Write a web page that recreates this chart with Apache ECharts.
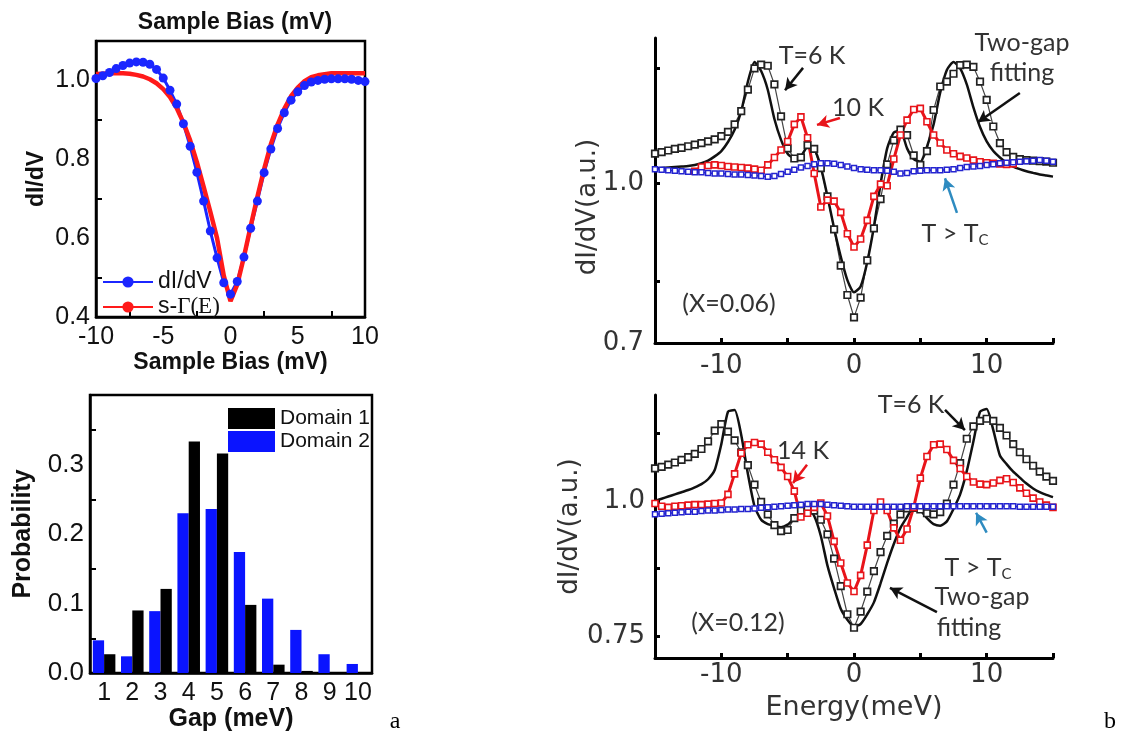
<!DOCTYPE html>
<html><head><meta charset="utf-8">
<script src="https://cdn.jsdelivr.net/npm/echarts@6/dist/echarts.min.js"></script>
<style>html,body{margin:0;padding:0;background:#fff}#c{width:1123px;height:740px}</style>
</head><body><div id="c"></div>
<script>
// ---------- Panel a (top): tunneling spectrum ----------
const biasA = [-10,-9.5,-9,-8.5,-8,-7.5,-7,-6.5,-6,-5.5,-5,-4.5,-4,-3.5,-3,-2.5,-2,-1.5,-1,-0.5,0,0.5,1,1.5,2,2.5,3,3.5,4,4.5,5,5.5,6,6.5,7,7.5,8,8.5,9,9.5,10];
const dIdV = [1.005,1.012,1.020,1.030,1.038,1.044,1.047,1.046,1.041,1.028,1.006,0.975,0.940,0.890,0.833,0.767,0.694,0.618,0.550,0.487,0.458,0.490,0.552,0.625,0.694,0.766,0.826,0.878,0.918,0.950,0.971,0.987,0.996,1.000,1.003,1.004,1.004,1.004,1.003,1.000,0.997];
const sGamma = [1.016,1.017,1.018,1.018,1.018,1.017,1.014,1.010,1.003,0.993,0.978,0.958,0.930,0.893,0.848,0.793,0.731,0.667,0.600,0.505,0.440,0.482,0.553,0.630,0.705,0.775,0.838,0.888,0.928,0.960,0.982,0.998,1.008,1.013,1.016,1.018,1.018,1.018,1.018,1.018,1.018];
const aTopXLabels = [-10,-5,0,5,10];
const aTopXTicks = [-7.5,-2.5,2.5,7.5];
const aTopYLabels = [0.4,0.6,0.8,1.0];
const aTopYTicks = [0.5,0.7,0.9];

// ---------- Panel a (bottom): gap histogram ----------
const gapCats = ['1','2','3','4','5','6','7','8','9','10'];
const domain1 = [0.027,0.090,0.121,0.333,0.316,0.098,0.012,0.003,0,0];
const domain2 = [0.047,0.024,0.089,0.230,0.236,0.174,0.107,0.062,0.027,0.013];
const aBotYLabels = [0,0.1,0.2,0.3];
const aBotYTicks = [0.05,0.15,0.25,0.35];

// ---------- Panel b: energy grid ----------
const energyB = [-15,-14.5,-14,-13.5,-13,-12.5,-12,-11.5,-11,-10.5,-10,-9.5,-9,-8.5,-8,-7.5,-7,-6.5,-6,-5.5,-5,-4.5,-4,-3.5,-3,-2.5,-2,-1.5,-1,-0.5,0,0.5,1,1.5,2,2.5,3,3.5,4,4.5,5,5.5,6,6.5,7,7.5,8,8.5,9,9.5,10,10.5,11,11.5,12,12.5,13,13.5,14,14.5,15];

// b top (X=0.06)
const top6K = [1.055,1.058,1.061,1.064,1.066,1.069,1.072,1.075,1.078,1.082,1.088,1.096,1.110,1.135,1.175,1.215,1.222,1.220,1.185,1.125,1.065,1.046,1.048,1.071,1.064,1.028,0.975,0.913,0.845,0.790,0.748,0.785,0.855,0.915,0.970,1.035,1.080,1.100,1.090,1.052,1.034,1.060,1.137,1.181,1.190,1.205,1.221,1.222,1.218,1.190,1.156,1.106,1.075,1.058,1.049,1.045,1.043,1.042,1.041,1.040,1.038];
const topFit = [1.027,1.028,1.029,1.030,1.031,1.032,1.034,1.037,1.042,1.050,1.060,1.077,1.100,1.135,1.190,1.227,1.210,1.175,1.120,1.081,1.055,1.046,1.050,1.068,1.064,1.030,0.975,0.915,0.862,0.818,0.795,0.806,0.852,0.918,0.998,1.065,1.095,1.098,1.065,1.045,1.040,1.068,1.110,1.170,1.212,1.227,1.215,1.185,1.142,1.105,1.078,1.060,1.048,1.038,1.031,1.026,1.022,1.019,1.016,1.014,1.012];
const top10K = [null,null,null,null,null,null,1.022,1.030,1.033,1.034,1.033,1.031,1.030,1.029,1.028,1.026,1.024,1.034,1.048,1.062,1.078,1.110,1.124,1.085,1.018,0.955,0.968,0.966,0.945,0.905,0.880,0.895,0.930,0.975,0.998,0.995,1.045,1.090,1.118,1.138,1.140,1.115,1.090,1.075,1.062,1.055,1.050,1.047,1.043,1.040,1.038,1.037,1.036,1.035,1.036,null,null,null,null,null,null];
const topAboveTc = [1.026,1.025,1.024,1.023,1.022,1.021,1.020,1.020,1.019,1.018,1.018,1.017,1.016,1.016,1.015,1.014,1.013,1.012,1.013,1.017,1.021,1.025,1.029,1.032,1.035,1.037,1.037,1.036,1.034,1.031,1.028,1.026,1.025,1.024,1.024,1.023,1.021,1.018,1.019,1.022,1.023,1.024,1.024,1.024,1.025,1.026,1.028,1.030,1.031,1.032,1.034,1.035,1.037,1.038,1.039,1.040,1.041,1.042,1.043,1.042,1.040];

// b bottom (X=0.12)
const bot6K = [1.060,1.063,1.067,1.071,1.076,1.081,1.087,1.096,1.110,1.130,1.142,1.128,1.112,1.090,1.066,1.030,0.998,0.975,0.955,0.944,0.946,0.968,0.982,0.988,0.982,0.965,0.938,0.893,0.842,0.790,0.765,0.795,0.832,0.870,0.905,0.935,0.958,0.975,0.986,0.987,0.984,0.977,0.975,0.979,0.995,1.030,1.070,1.115,1.138,1.148,1.152,1.148,1.135,1.121,1.105,1.090,1.077,1.065,1.054,1.045,1.037];
const botFit = [1.000,1.004,1.008,1.012,1.016,1.020,1.025,1.031,1.040,1.057,1.105,1.165,1.168,1.122,1.050,0.990,0.965,0.957,0.954,0.951,0.956,0.968,0.980,0.986,0.972,0.935,0.880,0.838,0.800,0.780,0.767,0.772,0.790,0.812,0.847,0.885,0.920,0.950,0.970,0.988,0.983,0.968,0.957,0.954,0.962,0.985,1.012,1.055,1.110,1.165,1.170,1.131,1.084,1.068,1.054,1.043,1.032,1.023,1.016,1.011,1.007];
const bot14K = [0.995,0.990,0.988,0.990,0.991,0.992,0.993,0.993,0.994,0.995,0.996,1.012,1.050,1.088,1.104,1.108,1.105,1.090,1.076,1.062,1.045,1.018,0.970,0.977,0.988,0.996,0.972,0.925,0.885,0.848,0.832,0.862,0.918,0.982,0.998,0.982,0.950,0.927,0.948,0.988,1.042,1.082,1.104,1.105,1.095,1.075,1.060,1.045,1.035,1.031,1.030,1.033,1.038,1.041,1.034,1.024,1.014,1.005,0.998,0.992,0.988];
const botAboveTc = [0.975,0.976,0.977,0.978,0.979,0.980,0.980,0.981,0.982,0.982,0.983,0.984,0.984,0.985,0.985,0.986,0.987,0.988,0.989,0.990,0.991,0.992,0.993,0.994,0.994,0.994,0.993,0.992,0.991,0.990,0.989,0.989,0.989,0.989,0.989,0.989,0.989,0.989,0.990,0.990,0.990,0.990,0.990,0.990,0.990,0.990,0.990,0.990,0.990,0.990,0.990,0.990,0.990,0.990,0.990,0.989,0.989,0.989,0.989,0.989,0.989];

const bXLabels = [-10,0,10];
const bXTicks = [-10,-5,0,5,10,15];
const bTopYLabels = [0.7,1.0];
const bTopYLabelText = ['0.7','1.0'];
const bTopYTicks = [0.815,1.0,1.215];
const bBotYLabels = [0.75,1.0];
const bBotYLabelText = ['0.75','1.0'];
const bBotYTicks = [0.75,0.875,1.0,1.125];

// annotation arrows (data coordinates)
const topArrows = [
  {from:[-3.84,1.216], to:[-5.2,1.174], color:'#111'},
  {from:[-1.06,1.122], to:[-2.79,1.109], color:'#e8141a'},
  {from:[12.5,1.169], to:[9.34,1.114], color:'#111'},
  {from:[7.76,0.944], to:[6.86,1.009], color:'#2e8bc0'}
];
const botArrows = [
  {from:[6.86,1.1685], to:[8.36,1.131], color:'#111'},
  {from:[-3.54,1.067], to:[-4.6,1.033], color:'#e8141a'},
  {from:[6.25,0.794], to:[2.71,0.839], color:'#111'},
  {from:[10.0,0.941], to:[9.2,0.978], color:'#2e8bc0'}
];

// ---------- build ----------
const zip = (xs, ys) => xs.map((x, i) => [x, ys[i]]);
const arrowLines = arr => arr.map(a => [
  {coord: a.from, lineStyle:{color:a.color, width:2.5, type:'solid'}},
  {coord: a.to, lineStyle:{color:a.color, width:2.5, type:'solid'}}
]);
const AR = '"Liberation Sans", Arial, sans-serif';
const DJ = '"DejaVu Sans", sans-serif';
const LT = 'Lato, "Open Sans", sans-serif';

const chart = echarts.init(document.getElementById('c'), null, {renderer:'canvas'});

const aAxisLine = {show:true, onZero:false, lineStyle:{color:'#000', width:2.5}};
const bAxisLine = {show:true, onZero:false, lineStyle:{color:'#000', width:3}};

const option = {
  animation:false,
  backgroundColor:'#fff',
  title:{text:'Sample Bias (mV)', left:230, top:6, textAlign:'center',
    textStyle:{fontFamily:AR, fontWeight:'bold', fontSize:23, color:'#111'}},
  legend:[
    {data:['dI/dV','s-Γ(E)'], orient:'vertical', left:97, top:265, itemWidth:50, itemHeight:14, itemGap:1,
      textStyle:{fontFamily:AR, fontSize:23, color:'#111', lineHeight:24,
        rich:{g:{fontFamily:'"Liberation Serif", serif', fontSize:23, color:'#111'}}},
      formatter: n => n === 's-Γ(E)' ? 's-{g|Γ(E)}' : n},
    {data:['Domain 1','Domain 2'], orient:'vertical', left:223, top:403, itemWidth:47, itemHeight:21, itemGap:2, icon:'rect',
      textStyle:{fontFamily:AR, fontSize:21, color:'#111'}}
  ],
  grid:[
    {left:96, top:41, width:269, height:276, show:true, borderColor:'#000', borderWidth:2.5, backgroundColor:'transparent'},
    {left:90, top:395, width:282, height:278, show:true, borderColor:'#000', borderWidth:2.5, backgroundColor:'transparent'},
    {left:655, top:38, width:398, height:305},
    {left:655, top:395, width:398, height:263}
  ],
  xAxis:[
    {gridIndex:0, type:'value', min:-10, max:10, axisLine:aAxisLine, splitLine:{show:false},
      axisTick:{show:true, inside:true, length:6, lineStyle:{width:2, color:'#000'}, customValues:aTopXTicks},
      axisLabel:{customValues:aTopXLabels, fontFamily:AR, fontSize:25, color:'#111', margin:8},
      name:'Sample Bias (mV)', nameLocation:'middle', nameGap:33,
      nameTextStyle:{fontFamily:AR, fontWeight:'bold', fontSize:23, color:'#111'}},
    {gridIndex:1, type:'category', data:gapCats, axisLine:aAxisLine, axisTick:{show:false}, splitLine:{show:false},
      axisLabel:{fontFamily:AR, fontSize:25, color:'#111', margin:8, interval:0},
      name:'Gap (meV)', nameLocation:'middle', nameGap:30,
      nameTextStyle:{fontFamily:AR, fontWeight:'bold', fontSize:25, color:'#111'}},
    {gridIndex:2, type:'value', min:-15, max:15, axisLine:bAxisLine, splitLine:{show:false},
      axisTick:{show:true, inside:true, length:5, lineStyle:{width:3, color:'#000'}, customValues:bXTicks},
      axisLabel:{customValues:bXLabels, fontFamily:DJ, fontSize:26, color:'#333', margin:10}},
    {gridIndex:3, type:'value', min:-15, max:15, axisLine:bAxisLine, splitLine:{show:false},
      axisTick:{show:true, inside:true, length:5, lineStyle:{width:3, color:'#000'}, customValues:bXTicks},
      axisLabel:{customValues:bXLabels, fontFamily:DJ, fontSize:26, color:'#333', margin:4},
      name:'Energy(meV)', nameLocation:'middle', nameGap:36,
      nameTextStyle:{fontFamily:DJ, fontSize:27, color:'#333'}}
  ],
  yAxis:[
    {gridIndex:0, type:'value', min:0.4, max:1.1, axisLine:aAxisLine, splitLine:{show:false},
      axisTick:{show:true, inside:true, length:6, lineStyle:{width:2, color:'#000'}, customValues:aTopYTicks},
      axisLabel:{customValues:aTopYLabels, formatter:v => v.toFixed(1), fontFamily:AR, fontSize:25, color:'#111', margin:6},
      name:'dI/dV', nameLocation:'middle', nameGap:48, nameRotate:90,
      nameTextStyle:{fontFamily:AR, fontWeight:'bold', fontSize:23, color:'#111'}},
    {gridIndex:1, type:'value', min:0, max:0.4, axisLine:aAxisLine, splitLine:{show:false},
      axisTick:{show:true, inside:true, length:6, lineStyle:{width:2, color:'#000'}, customValues:aBotYTicks},
      axisLabel:{customValues:aBotYLabels, formatter:v => v.toFixed(1), fontFamily:AR, fontSize:26, color:'#111', margin:6},
      name:'Probability', nameLocation:'middle', nameGap:54, nameRotate:90,
      nameTextStyle:{fontFamily:AR, fontWeight:'bold', fontSize:25, color:'#111'}},
    {gridIndex:2, type:'value', min:0.7, max:1.272, axisLine:bAxisLine, splitLine:{show:false},
      axisTick:{show:true, inside:true, length:5, lineStyle:{width:3, color:'#000'}, customValues:bTopYTicks},
      axisLabel:{customValues:bTopYLabels, formatter:v => bTopYLabelText[bTopYLabels.indexOf(v)], fontFamily:DJ, fontSize:26, color:'#333', margin:11}},
    {gridIndex:3, type:'value', min:0.709, max:1.196, axisLine:bAxisLine, splitLine:{show:false},
      axisTick:{show:true, inside:true, length:5, lineStyle:{width:3, color:'#000'}, customValues:bBotYTicks},
      axisLabel:{customValues:bBotYLabels, formatter:v => bBotYLabelText[bBotYLabels.indexOf(v)], fontFamily:DJ, fontSize:26, color:'#333', margin:10},
      name:'dI/dV(a.u.)', nameLocation:'middle', nameGap:54, nameRotate:90,
      nameTextStyle:{fontFamily:DJ, fontSize:26, color:'#333'}}
  ],
  series:[
    // panel a top
    {name:'dI/dV', type:'line', xAxisIndex:0, yAxisIndex:0, data:zip(biasA, dIdV),
      symbol:'circle', symbolSize:9, showAllSymbol:true,
      lineStyle:{color:'#1b26ff', width:3}, itemStyle:{color:'#1b26ff'}},
    {name:'s-Γ(E)', type:'line', xAxisIndex:0, yAxisIndex:0, data:zip(biasA, sGamma),
      symbol:'none', lineStyle:{color:'#ff1a1a', width:4.5}, itemStyle:{color:'#ff1a1a'}},
    // panel a bottom (blue bars sit left of black bars)
    {name:'Domain 2', type:'bar', xAxisIndex:1, yAxisIndex:1, data:domain2, barGap:'0%', barCategoryGap:'20%',
      itemStyle:{color:'#0a14ff'}},
    {name:'Domain 1', type:'bar', xAxisIndex:1, yAxisIndex:1, data:domain1, barGap:'0%', barCategoryGap:'20%',
      itemStyle:{color:'#000'}},
    // panel b top
    {name:'T=6 K (X=0.06)', type:'line', xAxisIndex:2, yAxisIndex:2, data:zip(energyB, top6K),
      symbol:'rect', symbolSize:6.5, showAllSymbol:true, lineStyle:{color:'#444', width:1.2},
      itemStyle:{color:'#fff', borderColor:'#222', borderWidth:1.7}},
    {name:'Two-gap fitting (X=0.06)', type:'line', xAxisIndex:2, yAxisIndex:2, data:zip(energyB, topFit),
      symbol:'none', smooth:0.2, lineStyle:{color:'#111', width:2.5},
      markLine:{silent:true, symbol:['none','arrow'], symbolSize:[10,12], label:{show:false}, data:arrowLines(topArrows)}},
    {name:'10 K (X=0.06)', type:'line', xAxisIndex:2, yAxisIndex:2, data:zip(energyB, top10K),
      symbol:'rect', symbolSize:6, showAllSymbol:true, lineStyle:{color:'#e8141a', width:3},
      itemStyle:{color:'#fff', borderColor:'#e8141a', borderWidth:1.6}},
    {name:'T > Tc (X=0.06)', type:'line', xAxisIndex:2, yAxisIndex:2, data:zip(energyB, topAboveTc),
      symbol:'rect', symbolSize:5, showAllSymbol:true, lineStyle:{color:'#2424d0', width:1.5},
      itemStyle:{color:'#fff', borderColor:'#2424d0', borderWidth:1.5}},
    // panel b bottom
    {name:'T=6 K (X=0.12)', type:'line', xAxisIndex:3, yAxisIndex:3, data:zip(energyB, bot6K),
      symbol:'rect', symbolSize:6.5, showAllSymbol:true, lineStyle:{color:'#444', width:1.2},
      itemStyle:{color:'#fff', borderColor:'#222', borderWidth:1.7}},
    {name:'Two-gap fitting (X=0.12)', type:'line', xAxisIndex:3, yAxisIndex:3, data:zip(energyB, botFit),
      symbol:'none', smooth:0.2, lineStyle:{color:'#111', width:2.5},
      markLine:{silent:true, symbol:['none','arrow'], symbolSize:[10,12], label:{show:false}, data:arrowLines(botArrows)}},
    {name:'14 K (X=0.12)', type:'line', xAxisIndex:3, yAxisIndex:3, data:zip(energyB, bot14K),
      symbol:'rect', symbolSize:6, showAllSymbol:true, lineStyle:{color:'#e8141a', width:3},
      itemStyle:{color:'#fff', borderColor:'#e8141a', borderWidth:1.6}},
    {name:'T > Tc (X=0.12)', type:'line', xAxisIndex:3, yAxisIndex:3, data:zip(energyB, botAboveTc),
      symbol:'rect', symbolSize:5, showAllSymbol:true, lineStyle:{color:'#2424d0', width:1.5},
      itemStyle:{color:'#fff', borderColor:'#2424d0', borderWidth:1.5}}
  ],
  graphic:[
    {type:'text', x:395, y:722, style:{text:'a', font:'24px "Liberation Serif", serif', fill:'#000', align:'center', verticalAlign:'middle'}},
    {type:'text', x:1110, y:722, style:{text:'b', font:'24px "Liberation Serif", serif', fill:'#000', align:'center', verticalAlign:'middle'}},
    // top b y-axis title
    {type:'text', x:588, y:207, rotation:Math.PI/2, style:{text:'dI/dV(a.u.)', font:'26px ' + DJ, fill:'#333', align:'center', verticalAlign:'middle'}},
    // top b annotations
    {type:'text', x:812, y:56, style:{text:'T=6 K', font:'25px ' + LT, fill:'#333', align:'center', verticalAlign:'middle'}},
    {type:'text', x:858, y:108, style:{text:'10 K', font:'25px ' + LT, fill:'#333', align:'center', verticalAlign:'middle'}},
    {type:'text', x:1022, y:43, style:{text:'Two-gap', font:'25px ' + LT, fill:'#333', align:'center', verticalAlign:'middle'}},
    {type:'text', x:1022, y:73, style:{text:'fitting', font:'25px ' + LT, fill:'#333', align:'center', verticalAlign:'middle'}},
    {type:'text', x:955, y:234, style:{text:'{n|T > T}{s|C}', align:'center', verticalAlign:'middle',
      rich:{n:{font:'25px ' + LT, fill:'#333', color:'#333'}, s:{font:'15px ' + LT, fill:'#333', color:'#333', verticalAlign:'bottom', padding:[12,0,0,0]}}}},
    {type:'text', x:729, y:304, style:{text:'(X=0.06)', font:'25px ' + LT, fill:'#333', align:'center', verticalAlign:'middle'}},
    // bottom b annotations
    {type:'text', x:911, y:405, style:{text:'T=6 K', font:'25px ' + LT, fill:'#333', align:'center', verticalAlign:'middle'}},
    {type:'text', x:803, y:451, style:{text:'14 K', font:'25px ' + LT, fill:'#333', align:'center', verticalAlign:'middle'}},
    {type:'text', x:978, y:568, style:{text:'{n|T > T}{s|C}', align:'center', verticalAlign:'middle',
      rich:{n:{font:'25px ' + LT, fill:'#333', color:'#333'}, s:{font:'15px ' + LT, fill:'#333', color:'#333', verticalAlign:'bottom', padding:[12,0,0,0]}}}},
    {type:'text', x:982, y:597, style:{text:'Two-gap', font:'25px ' + LT, fill:'#333', align:'center', verticalAlign:'middle'}},
    {type:'text', x:969, y:628, style:{text:'fitting', font:'25px ' + LT, fill:'#333', align:'center', verticalAlign:'middle'}},
    {type:'text', x:738, y:623, style:{text:'(X=0.12)', font:'25px ' + LT, fill:'#333', align:'center', verticalAlign:'middle'}}
  ]
};
chart.setOption(option);
</script></body></html>
